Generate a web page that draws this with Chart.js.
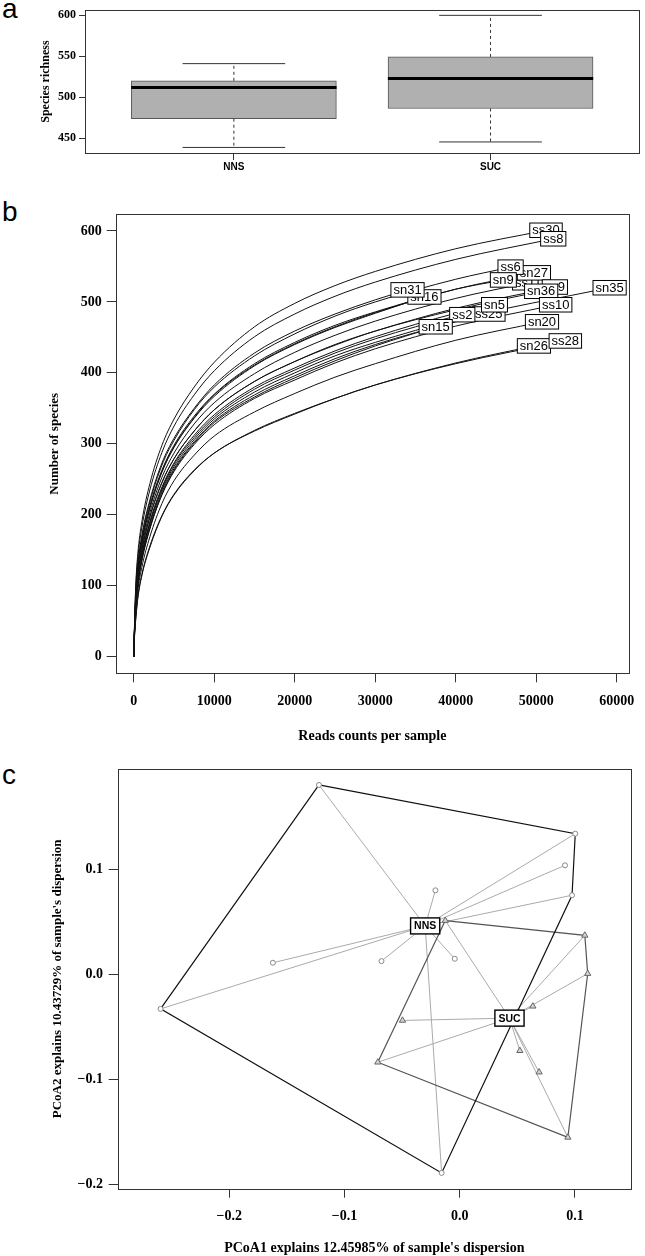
<!DOCTYPE html>
<html>
<head>
<meta charset="utf-8">
<script src="https://cdn.jsdelivr.net/npm/chart.js@4.4.0/dist/chart.umd.min.js"></script>
<style>
  body { margin: 0; background: #fff; width: 645px; height: 1256px; position: relative; overflow: hidden; }
  canvas { position: absolute; left: 0; }
  .tag { position: absolute; left: 2px; font: 28px/1 "Liberation Sans", Arial, sans-serif; color: #000; }
</style>
</head>
<body>
<div class="tag" style="top:-5px">a</div>
<div class="tag" style="top:198px">b</div>
<div class="tag" style="top:761px">c</div>
<canvas id="richness" width="645" height="185" style="top:0"></canvas>
<canvas id="rarefaction" width="645" height="570" style="top:185px"></canvas>
<canvas id="pcoa" width="645" height="501" style="top:755px"></canvas>
<script>
// a: species richness per group (boxplot stats)
const groups = ['NNS', 'SUC'];
const richLow = [438.6, 445.3];
const richQ1 = [473.7, 486.2];
const richMedian = [511.8, 522.8];
const richQ3 = [520.0, 549.2];
const richHigh = [541.0, 600.0];
const richTicks = [450, 500, 550, 600];

// b: rarefaction curves, species at each read depth
const readSteps = [0, 100, 250, 500, 1000, 2000, 3500, 5000, 7500, 10000, 15000, 20000, 25000, 30000, 40000];
const sampleNames = ['ss11', 'ss30', 'ss8', 'sn27', 'ss6', 'sn9', 'ss9', 'sn36', 'sn35', 'sn16',
  'sn31', 'ss25', 'ss2', 'sn5', 'ss10', 'sn15', 'sn20', 'sn26', 'ss28'];
const sampleReads = [49000, 51200, 52100, 49700, 46800, 45900, 52300, 50600, 59100, 36100,
  34000, 44100, 40800, 44800, 52400, 37500, 50700, 49700, 53600];
const sampleSpecies = [527, 601, 589, 541, 549, 531, 521, 515, 520, 507,
  517, 483, 482, 496, 496, 465, 472, 438, 445];
const curveSpecies = [
  [0, 41, 78, 115, 155, 203, 253, 287, 328, 358, 399, 429, 453, 473, 505],
  [0, 50, 102, 145, 190, 244, 298, 335, 380, 415, 465, 498, 523, 543, 575],
  [0, 48, 97, 138, 182, 235, 288, 325, 369, 403, 451, 483, 508, 528, 560],
  [0, 42, 83, 121, 161, 210, 261, 296, 337, 369, 411, 441, 465, 485, 518],
  [0, 44, 87, 126, 167, 218, 270, 305, 348, 380, 424, 455, 480, 500, 532],
  [0, 43, 86, 124, 164, 213, 263, 298, 339, 370, 413, 443, 467, 486, 518],
  [0, 39, 75, 111, 149, 196, 245, 279, 318, 348, 388, 416, 440, 459, 491],
  [0, 40, 77, 113, 151, 198, 246, 279, 318, 348, 388, 416, 439, 459, 489],
  [0, 37, 70, 105, 141, 187, 235, 268, 306, 335, 373, 400, 424, 443, 475],
  [0, 42, 82, 119, 160, 209, 260, 295, 336, 367, 410, 440, 464, 484],
  [0, 45, 90, 129, 171, 221, 273, 308, 350, 383, 428, 459, 483, 503],
  [0, 36, 68, 101, 138, 183, 232, 265, 303, 332, 369, 396, 420, 440, 472],
  [0, 38, 71, 106, 143, 189, 237, 271, 309, 338, 377, 404, 428, 448, 480],
  [0, 38, 72, 106, 144, 190, 239, 273, 312, 341, 380, 407, 431, 451, 484],
  [0, 36, 67, 100, 136, 181, 228, 261, 299, 327, 364, 390, 414, 434, 466],
  [0, 36, 65, 99, 135, 180, 229, 263, 301, 330, 366, 393, 417, 438],
  [0, 33, 60, 92, 126, 169, 216, 248, 284, 311, 345, 371, 394, 413, 446],
  [0, 30, 53, 82, 114, 154, 198, 228, 262, 287, 318, 342, 364, 383, 414],
  [0, 31, 55, 84, 116, 156, 199, 229, 263, 287, 319, 343, 364, 383, 413]
];
const readTicks = [0, 10000, 20000, 30000, 40000, 50000, 60000];
const speciesTicks = [0, 100, 200, 300, 400, 500, 600];

// c: PCoA of samples with group centroids
const nnsX = [-0.1222, 0.1003, 0.0914, 0.0975, -0.0211, -0.1622, -0.0679, -0.0043, -0.2597, -0.0157];
const nnsY = [0.1803, 0.1339, 0.1038, 0.0753, 0.0800, 0.0110, 0.0126, 0.0148, -0.0329, -0.1891];
const sucX = [-0.0125, 0.1086, 0.1111, 0.0635, -0.0497, -0.0711, 0.0522, 0.0689, 0.0939];
const sucY = [0.0512, 0.0371, 0.0007, -0.0304, -0.0439, -0.0837, -0.0727, -0.0931, -0.1552];
const centroidX = [-0.0300, 0.0432];
const centroidY = [0.0461, -0.0417];
const nnsHull = [0, 1, 3, 9, 8, 0];
const sucHull = [0, 1, 2, 8, 5, 0];
const pcoaXTicks = [-0.2, -0.1, 0.0, 0.1];
const pcoaYTicks = [-0.2, -0.1, 0.0, 0.1];

Chart.defaults.animation = false;
Chart.defaults.color = '#000';
Chart.defaults.plugins.legend.display = false;
Chart.defaults.plugins.tooltip.enabled = false;

const serif = (size, lh) => ({family: '"Liberation Serif", "Times New Roman", serif', size: size, weight: 'bold', lineHeight: lh || 1.2});
const sans = (size, weight) => ({family: '"Liberation Sans", Arial, sans-serif', size: size, weight: weight || 'normal'});

// box round the plotting region, like R's box()
const framePlugin = {
  id: 'frame',
  afterDatasetsDraw(chart) {
    const a = chart.chartArea, ctx = chart.ctx;
    ctx.save();
    ctx.strokeStyle = '#333';
    ctx.lineWidth = 1;
    ctx.strokeRect(Math.round(a.left) + 0.5, Math.round(a.top) + 0.5,
      Math.round(a.right - a.left), Math.round(a.bottom - a.top));
    ctx.restore();
  }
};

function boxedText(ctx, text, px, py, padX, h, lw) {
  const w = ctx.measureText(text).width + padX;
  ctx.fillStyle = '#fff';
  ctx.fillRect(px - w / 2, py - h / 2, w, h);
  ctx.strokeStyle = '#000';
  ctx.lineWidth = lw;
  ctx.strokeRect(px - w / 2, py - h / 2, w, h);
  ctx.fillStyle = '#000';
  ctx.fillText(text, px, py + 0.5);
}

function axis(min, max, values, o) {
  return {
    type: 'linear',
    min: min,
    max: max,
    offset: false,
    afterBuildTicks: s => { s.ticks = values.map(v => ({value: v})); },
    afterFit: s => { if (s.isHorizontal()) s.height = o.size; else s.width = o.size; },
    grid: {display: true, offset: false, drawOnChartArea: false, drawTicks: true, tickLength: o.tick, color: '#333', lineWidth: 1},
    border: {display: false},
    ticks: {font: o.font, padding: o.pad, color: '#000', maxRotation: 0, autoSkip: false,
      callback: o.format || (v => String(v))},
    title: o.title ? {display: true, text: o.title, font: o.titleFont, padding: o.titlePad, color: '#000'} : {display: false}
  };
}

// ---------- a: boxplot ----------
const boxHalf = 0.4, capHalf = 0.2;
const richSets = [];
groups.forEach((g, i) => {
  const c = i + 1;
  richSets.push({type: 'line', data: [{x: c - boxHalf, y: richMedian[i]}, {x: c + boxHalf, y: richMedian[i]}],
    borderColor: '#000', borderWidth: 3, pointRadius: 0, borderCapStyle: 'butt'});
  [[richQ3[i], richHigh[i]], [richQ1[i], richLow[i]]].forEach(([from, to]) => {
    richSets.push({type: 'line', data: [{x: c, y: from}, {x: c, y: to}],
      borderColor: '#333', borderWidth: 1, borderDash: [3, 3], pointRadius: 0});
    richSets.push({type: 'line', data: [{x: c - capHalf, y: to}, {x: c + capHalf, y: to}],
      borderColor: '#333', borderWidth: 1, pointRadius: 0});
  });
});
richSets.push({
  type: 'bar',
  data: groups.map((g, i) => ({x: i + 1, y: [richQ1[i], richQ3[i]]})),
  backgroundColor: '#b0b0b0',
  borderColor: '#555',
  borderWidth: 1,
  borderSkipped: false,
  barThickness: 205,
  grouped: false
});

new Chart(document.getElementById('richness'), {
  type: 'bar',
  data: {datasets: richSets},
  options: {
    responsive: false,
    layout: {padding: {left: 25, right: 5.6, top: 6, bottom: 0}},
    scales: {
      x: axis(0.42, 2.58, [1, 2], {size: 32, tick: 7, pad: 1, font: sans(10, 'bold'),
        format: (v, i) => groups[i]}),
      y: axis(431.8, 606.3, richTicks, {size: 60, tick: 6, pad: 3, font: serif(12),
        title: 'Species richness', titleFont: serif(12), titlePad: {top: 13.8, bottom: 0}})
    }
  },
  plugins: [framePlugin]
});

// ---------- b: rarefaction ----------
const curveSets = sampleNames.map((name, i) => {
  const steps = readSteps.filter(n => n < sampleReads[i]);
  const pts = steps.map((n, k) => ({x: n, y: curveSpecies[i][k]}));
  pts.push({x: sampleReads[i], y: sampleSpecies[i]});
  return {label: name, data: pts, borderColor: '#111', borderWidth: 1, pointRadius: 0,
    cubicInterpolationMode: 'monotone', fill: false};
});

const curveLabels = {
  id: 'curveLabels',
  afterDatasetsDraw(chart) {
    const {ctx, scales: {x, y}} = chart;
    ctx.save();
    ctx.font = '13px "Liberation Sans", Arial, sans-serif';
    ctx.textAlign = 'center';
    ctx.textBaseline = 'middle';
    sampleNames.forEach((name, i) => {
      boxedText(ctx, name, x.getPixelForValue(sampleReads[i]), y.getPixelForValue(sampleSpecies[i]), 5, 14.5, 1);
    });
    ctx.restore();
  }
};

new Chart(document.getElementById('rarefaction'), {
  type: 'line',
  data: {datasets: curveSets},
  options: {
    responsive: false,
    layout: {padding: {left: 45.7, right: 14.7, top: 29.3, bottom: 6.7}},
    scales: {
      x: axis(-2246, 61520, readTicks, {size: 75, tick: 9, pad: 10.3, font: serif(14),
        title: 'Reads counts per sample', titleFont: serif(14), titlePad: {top: 0, bottom: 3.2}}),
      y: axis(-23.4, 623.5, speciesTicks, {size: 70, tick: 9, pad: 5, font: serif(14),
        title: 'Number of species', titleFont: serif(13), titlePad: {top: 1.5, bottom: 0}})
    }
  },
  plugins: [framePlugin, curveLabels]
});

// ---------- c: PCoA ----------
const pt = (xs, ys) => (i => ({x: xs[i], y: ys[i]}));
const nnsPt = pt(nnsX, nnsY), sucPt = pt(sucX, sucY);
const centre = i => ({x: centroidX[i], y: centroidY[i]});

const pcoaSets = [
  {data: nnsX.map((v, i) => nnsPt(i)), pointStyle: 'circle', pointRadius: 2.5,
    pointBackgroundColor: '#fff', pointBorderColor: '#888', pointBorderWidth: 1, showLine: false},
  {data: sucX.map((v, i) => sucPt(i)), pointStyle: 'triangle', pointRadius: 3.6,
    pointBackgroundColor: '#d4d4d4', pointBorderColor: '#666', pointBorderWidth: 1, showLine: false},
  {data: nnsHull.map(nnsPt), showLine: true, borderColor: '#111', borderWidth: 1.2, pointRadius: 0, tension: 0},
  {data: sucHull.map(sucPt), showLine: true, borderColor: '#555', borderWidth: 1.2, pointRadius: 0, tension: 0}
];
nnsX.forEach((v, i) => pcoaSets.push({data: [nnsPt(i), centre(0)], showLine: true,
  borderColor: '#aaa', borderWidth: 1, pointRadius: 0}));
sucX.forEach((v, i) => pcoaSets.push({data: [sucPt(i), centre(1)], showLine: true,
  borderColor: '#aaa', borderWidth: 1, pointRadius: 0}));

const centroidLabels = {
  id: 'centroidLabels',
  afterDatasetsDraw(chart) {
    const {ctx, scales: {x, y}} = chart;
    ctx.save();
    ctx.font = 'bold 10.5px "Liberation Sans", Arial, sans-serif';
    ctx.textAlign = 'center';
    ctx.textBaseline = 'middle';
    groups.forEach((g, i) => {
      boxedText(ctx, g, x.getPixelForValue(centroidX[i]), y.getPixelForValue(centroidY[i]), 7, 16, 1.4);
    });
    ctx.restore();
  }
};

const minusFmt = v => v.toFixed(1).replace('-', '\u2212');

new Chart(document.getElementById('pcoa'), {
  type: 'scatter',
  data: {datasets: pcoaSets},
  options: {
    responsive: false,
    layout: {padding: {left: 42.7, right: 14.1, top: 9, bottom: 0}},
    scales: {
      x: axis(-0.2969, 0.1486, pcoaXTicks, {size: 67.3, tick: 9, pad: 9.9, font: serif(14), format: minusFmt,
        title: "PCoA1 explains 12.45985% of sample's dispersion", titleFont: serif(14, 1.1), titlePad: {top: 0, bottom: 0}}),
      y: axis(-0.2041, 0.1954, pcoaYTicks, {size: 75, tick: 9, pad: 5.7, font: serif(14), format: minusFmt,
        title: "PCoA2 explains 10.43729% of sample's dispersion", titleFont: serif(13), titlePad: {top: 7.5, bottom: 0}})
    }
  },
  plugins: [framePlugin, centroidLabels]
});
</script>
</body>
</html>
